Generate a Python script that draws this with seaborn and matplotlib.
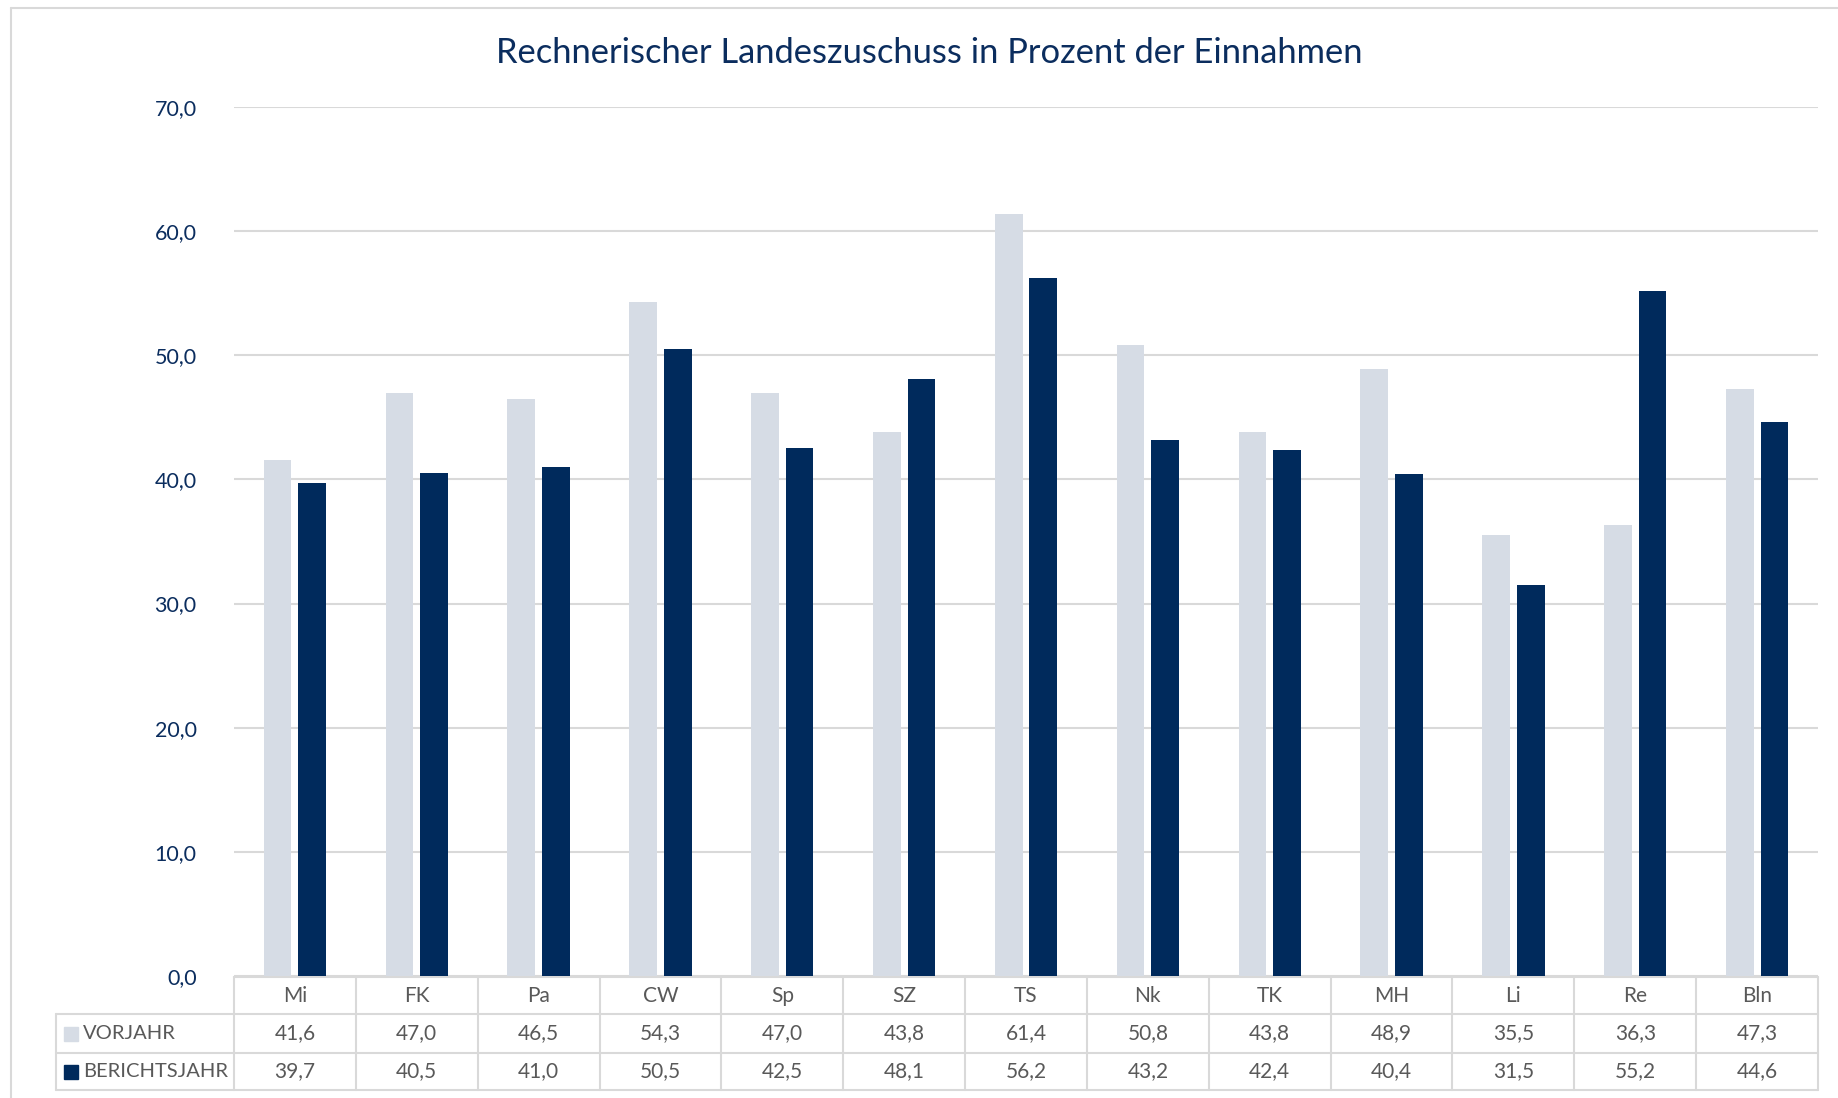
import pandas as pd
import matplotlib.pyplot as plt
import matplotlib.transforms as mtransforms
from matplotlib.lines import Line2D
from matplotlib.patches import Rectangle
import seaborn as sns

# Werte aus der Grafik
bezirke = ["Mi", "FK", "Pa", "CW", "Sp", "SZ", "TS", "Nk", "TK", "MH", "Li", "Re", "Bln"]
vorjahr = [41.6, 47.0, 46.5, 54.3, 47.0, 43.8, 61.4, 50.8, 43.8, 48.9, 35.5, 36.3, 47.3]
berichtsjahr = [39.7, 40.5, 41.0, 50.5, 42.5, 48.1, 56.2, 43.2, 42.4, 40.4, 31.5, 55.2, 44.6]
reihen = ["VORJAHR", "BERICHTSJAHR"]
y_ticks = [0, 10, 20, 30, 40, 50, 60, 70]
title = "Rechnerischer Landeszuschuss in Prozent der Einnahmen"

LIGHT = "#D6DCE5"
NAVY = "#002A5C"
TEXT_NAVY = "#0B2D5E"
GRAY_TXT = "#595959"
GRID = "#D9D9D9"

df = pd.DataFrame({
    "Bezirk": bezirke * 2,
    "Wert": vorjahr + berichtsjahr,
    "Reihe": [reihen[0]] * len(bezirke) + [reihen[1]] * len(bezirke),
})

sns.set_style("white")
plt.rcParams["font.family"] = ["Lato", "DejaVu Sans"]

W, H = 1838, 1098
fig = plt.figure(figsize=(W / 100, H / 100), dpi=100)


def fx(px):
    return px / W


def fy(py):
    return 1 - py / H


ax = fig.add_axes([fx(234), fy(976), fx(1818) - fx(234), fy(107) - fy(976)])

sns.barplot(data=df, x="Bezirk", y="Wert", hue="Reihe", order=bezirke, hue_order=reihen,
            palette=[LIGHT, NAVY], saturation=1, width=0.568, gap=0.2, ax=ax, legend=False,
            linewidth=0, errorbar=None, zorder=3)

ax.set_xlim(-0.5, len(bezirke) - 0.5)
ax.set_ylim(0, 70)
ax.set_yticks(y_ticks)
ax.set_yticklabels([f"{v:.1f}".replace(".", ",") for v in y_ticks], color=TEXT_NAVY, fontsize=15.5)
ax.tick_params(axis="y", length=0, pad=27)
ax.set_xticks([])
ax.set_xlabel("")
ax.set_ylabel("")
for s in ax.spines.values():
    s.set_visible(False)
ax.yaxis.grid(True, color=GRID, linewidth=1.5, zorder=0)
ax.set_axisbelow(True)

# Datentabelle unter der Achse
tr = mtransforms.blended_transform_factory(ax.transData, fig.transFigure)
row_edges = [977, 1014, 1053, 1090]
row_mid = [(row_edges[i] + row_edges[i + 1]) / 2 for i in range(3)]
n = len(bezirke)
lw = 1.5
fs_tab = 15

# horizontale Linien
ax.plot([-0.5, n - 0.5], [fy(row_edges[0])] * 2, transform=tr, color=GRID, lw=lw, clip_on=False)
for py in row_edges[1:]:
    fig.add_artist(Line2D([fx(56), fx(1818)], [fy(py)] * 2, color=GRID, lw=lw))
# vertikale Linien
for i in range(n + 1):
    ax.plot([i - 0.5, i - 0.5], [fy(row_edges[0]), fy(row_edges[-1])], transform=tr,
            color=GRID, lw=lw, clip_on=False)
fig.add_artist(Line2D([fx(56), fx(56)], [fy(row_edges[1]), fy(row_edges[-1])], color=GRID, lw=lw))

for i, b in enumerate(bezirke):
    ax.text(i, fy(row_mid[0]), b, transform=tr, ha="center", va="center",
            fontsize=fs_tab, color=GRAY_TXT)
    ax.text(i, fy(row_mid[1]), f"{vorjahr[i]:.1f}".replace(".", ","), transform=tr,
            ha="center", va="center", fontsize=fs_tab, color=GRAY_TXT)
    ax.text(i, fy(row_mid[2]), f"{berichtsjahr[i]:.1f}".replace(".", ","), transform=tr,
            ha="center", va="center", fontsize=fs_tab, color=GRAY_TXT)

for r, (name, col) in enumerate(zip(reihen, [LIGHT, NAVY])):
    yc = row_mid[r + 1]
    fig.add_artist(Rectangle((fx(64), fy(yc + 7)), fx(14), 14 / H, color=col))
    fig.text(fx(83), fy(yc), name, ha="left", va="center", fontsize=14.5, color=GRAY_TXT)

# Titel
fig.text(fx(929), fy(53), title, ha="center", va="center", fontsize=24.8, color=TEXT_NAVY)

# Rahmen
fig.add_artist(Line2D([fx(11), fx(11)], [0, fy(8)], color=GRID, lw=lw))
fig.add_artist(Line2D([fx(11), 1], [fy(8), fy(8)], color=GRID, lw=lw))

fig.savefig("out.png", dpi=100, facecolor="white")
